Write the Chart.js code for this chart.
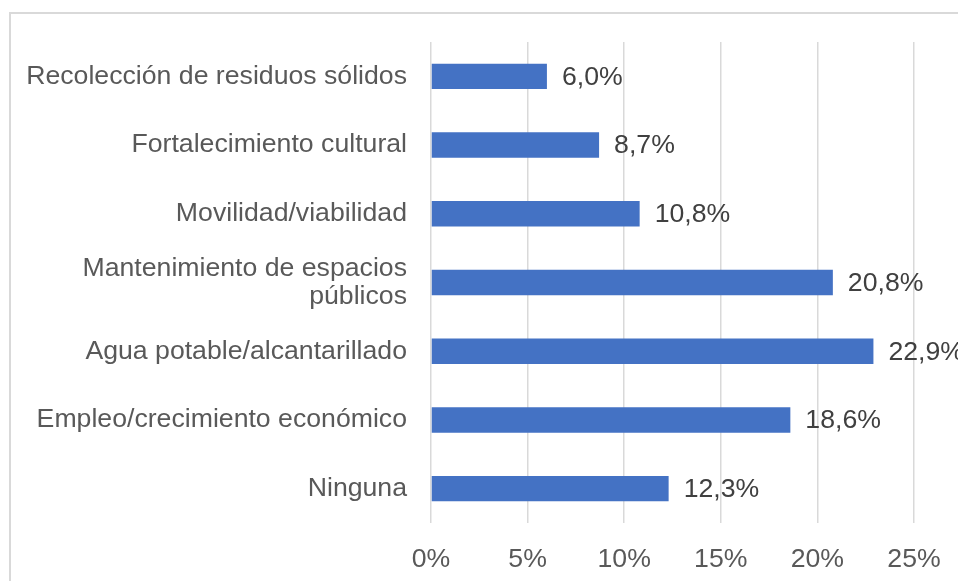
<!DOCTYPE html>
<html>
<head>
<meta charset="utf-8">
<script src="https://cdn.jsdelivr.net/npm/chart.js@4"></script>
<style>
    html, body { margin: 0; padding: 0; background: #fff; overflow: hidden; }
    #marco { position: absolute; left: 9px; top: 12px; width: 1200px; height: 800px; border: 2px solid #d9d9d9; box-sizing: border-box; }
    #grafica { position: absolute; left: 0; top: 0; }
</style>
</head>
<body>
<div id="marco"></div>
<canvas id="grafica" width="958" height="581"></canvas>
<script>
// Datos
const categorias = [
    'Recolección de residuos sólidos',
    'Fortalecimiento cultural',
    'Movilidad/viabilidad',
    ['Mantenimiento de espacios', 'públicos'],
    'Agua potable/alcantarillado',
    'Empleo/crecimiento económico',
    'Ninguna'
];
const porcentajes = [6.0, 8.7, 10.8, 20.8, 22.9, 18.6, 12.3];
const ticksEje = [0, 5, 10, 15, 20, 25];

const fuente = "'Liberation Sans', Arial, sans-serif";
const tamano = 26.67;

// Etiquetas de valor al final de cada barra
const etiquetasValor = {
    id: 'etiquetasValor',
    afterDatasetsDraw(chart) {
        const ctx = chart.ctx;
        const meta = chart.getDatasetMeta(0);
        ctx.save();
        ctx.font = tamano + 'px ' + fuente;
        ctx.fillStyle = '#404040';
        ctx.textAlign = 'left';
        ctx.textBaseline = 'middle';
        meta.data.forEach((barra, i) => {
            const texto = porcentajes[i].toFixed(1).replace('.', ',') + '%';
            ctx.fillText(texto, barra.x + 15, barra.y + 1);
        });
        ctx.restore();
    }
};

new Chart(document.getElementById('grafica'), {
    type: 'bar',
    data: {
        labels: categorias,
        datasets: [{
            data: porcentajes,
            backgroundColor: '#4472c4',
            borderWidth: 0,
            categoryPercentage: 1,
            barPercentage: 0.37
        }]
    },
    options: {
        indexAxis: 'y',
        responsive: false,
        animation: false,
        layout: { padding: { top: 42, right: 44, left: 0, bottom: 0 } },
        plugins: {
            legend: { display: false },
            tooltip: { enabled: false }
        },
        scales: {
            x: {
                min: 0,
                max: 25,
                afterBuildTicks(scale) {
                    scale.ticks = ticksEje.map(v => ({ value: v }));
                },
                afterFit(scale) {
                    scale.height = 58;
                    scale.paddingLeft = 0;
                    scale.paddingRight = 0;
                },
                grid: { color: '#d9d9d9', lineWidth: 1.5, drawTicks: false },
                border: { display: false },
                ticks: {
                    padding: 21,
                    maxRotation: 0,
                    color: '#595959',
                    font: { family: fuente, size: tamano },
                    callback: v => v + '%'
                }
            },
            y: {
                afterFit(scale) {
                    scale.width = 431;
                    scale.paddingTop = 0;
                    scale.paddingBottom = 0;
                },
                grid: { display: false, drawTicks: false },
                border: { display: false },
                ticks: {
                    padding: 24,
                    color: '#595959',
                    font: { family: fuente, size: tamano, lineHeight: 1.05 }
                }
            }
        }
    },
    plugins: [etiquetasValor]
});
</script>
</body>
</html>
